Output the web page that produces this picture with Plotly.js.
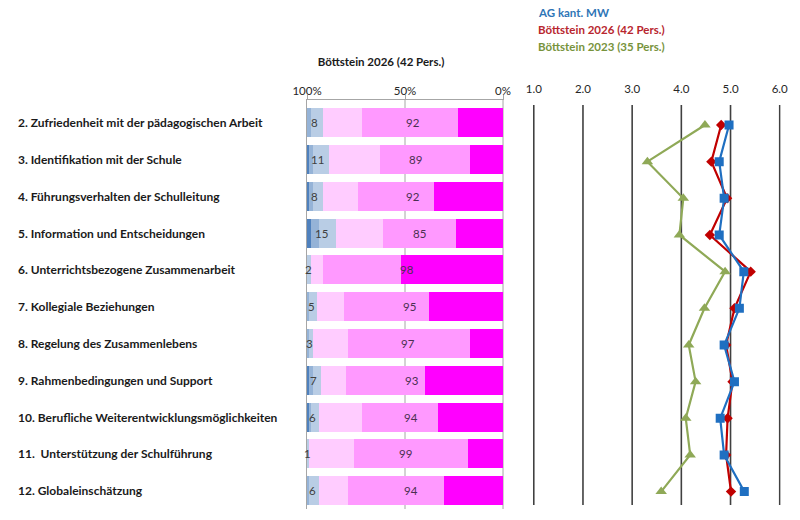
<!DOCTYPE html>
<html>
<head>
<meta charset="utf-8">
<script src="https://cdn.plot.ly/plotly-3.0.1.min.js"></script>
<style>html,body{margin:0;padding:0;background:#fff;}#chart{width:800px;height:520px;}</style>
</head>
<body>
<div id="chart"></div>
<script>
// ---- data ----
const categories = [
  "2. Zufriedenheit mit der pädagogischen Arbeit",
  "3. Identifikation mit der Schule",
  "4. Führungsverhalten der Schulleitung",
  "5. Information und Entscheidungen",
  "6. Unterrichtsbezogene Zusammenarbeit",
  "7. Kollegiale Beziehungen",
  "8. Regelung des Zusammenlebens",
  "9. Rahmenbedingungen und Support",
  "10. Berufliche Weiterentwicklungsmöglichkeiten",
  "11.  Unterstützung der Schulführung",
  "12. Globaleinschätzung"
];
// percentage segments (Böttstein 2026)
const blueDark  = [0, 1, 1, 2, 0, 0, 0, 1, 1, 0, 0];
const blueMid   = [2, 2, 2, 4, 0, 1, 1, 2, 1, 0, 1];
const blueLight = [6, 8, 5, 9, 2, 4, 2, 4, 4, 1, 5];
const pinkLight = [20, 26, 18, 24, 6, 14, 18, 13, 22, 23, 15];
const pinkMid   = [49, 46, 39, 37, 40, 43, 62, 40, 39, 58, 49];
const magenta   = [23, 17, 35, 24, 52, 38, 17, 40, 33, 18, 30];
const blueLabels = [8, 11, 8, 15, 2, 5, 3, 7, 6, 1, 6];
const pinkLabels = [92, 89, 92, 85, 98, 95, 97, 93, 94, 99, 94];
// means
const agKantMW  = [4.97, 4.77, 4.87, 4.77, 5.27, 5.18, 4.87, 5.08, 4.79, 4.87, 5.28];
const bt2026    = [4.81, 4.61, 4.93, 4.58, 5.41, 5.08, 4.91, 5.04, 4.94, 4.91, 5.01];
const bt2023    = [4.48, 3.31, 4.04, 3.96, 4.89, 4.47, 4.15, 4.29, 4.09, 4.18, 3.59];
const barTickVals = [100, 50, 0];
const barTickText = ["100%", "50%", "0%"];
const lineTickVals = [1, 2, 3, 4, 5, 6];
const legendNames = ["AG kant. MW", "Böttstein 2026 (42 Pers.)", "Böttstein 2023 (35 Pers.)"];
const barTitle = "Böttstein 2026 (42 Pers.)";

// ---- traces ----
const idx = categories.map((_, i) => i);
const FONT = "Lato, 'Open Sans', sans-serif";
function barTrace(vals, color, name) {
  return {type: "bar", orientation: "h", x: vals, y: idx, xaxis: "x", yaxis: "y",
    width: 0.79, marker: {color: color, line: {width: 0}}, name: name,
    hoverinfo: "x", showlegend: false};
}
const traces = [
  barTrace(magenta, "#FF00FF", "6"),
  barTrace(pinkMid, "#FF99FF", "5"),
  barTrace(pinkLight, "#FFCCFF", "4"),
  barTrace(blueLight, "#B9CDE5", "3"),
  barTrace(blueMid, "#95B3D7", "2"),
  barTrace(blueDark, "#4F81BD", "1"),
  {type: "scatter", mode: "lines+markers", x: bt2023, y: idx, xaxis: "x2", yaxis: "y2",
    name: legendNames[2], line: {color: "#8FA957", width: 2.2},
    marker: {symbol: "triangle-up", size: 10, color: "#8FA957"}, showlegend: false},
  {type: "scatter", mode: "lines+markers", x: bt2026, y: idx, xaxis: "x2", yaxis: "y2",
    name: legendNames[1], line: {color: "#C00000", width: 2.2},
    marker: {symbol: "diamond", size: 8, color: "#C00000"}, showlegend: false},
  {type: "scatter", mode: "lines+markers", x: agKantMW, y: idx, xaxis: "x2", yaxis: "y2",
    name: legendNames[0], line: {color: "#1F6FC1", width: 2.2},
    marker: {symbol: "square", size: 9, color: "#1F6FC1"}, showlegend: false}
];

// ---- annotations ----
const annotations = [];
categories.forEach((c, i) => {
  annotations.push({xref: "paper", yref: "y", x: 16/800, y: i, text: c, showarrow: false,
    xanchor: "left", yanchor: "middle", font: {family: FONT, size: 12, color: "#1a1a1a", weight: "bold"}});
  annotations.push({xref: "x", yref: "y", x: 100 - blueLabels[i]/2, y: i, text: String(blueLabels[i]),
    showarrow: false, xanchor: "center", yanchor: "middle", font: {family: FONT, size: 11.5, color: "#404040"}});
  annotations.push({xref: "x", yref: "y", x: pinkLabels[i]/2, y: i, text: String(pinkLabels[i]),
    showarrow: false, xanchor: "center", yanchor: "middle", font: {family: FONT, size: 11.5, color: "#4a3050"}});
});
const legendColors = ["#2E75B6", "#B8262E", "#77933C"];
const legendY = [12, 29, 46];
legendNames.forEach((n, k) => {
  annotations.push({xref: "paper", yref: "paper", x: 536/800, y: 1 - legendY[k]/520, text: n,
    showarrow: false, xanchor: "left", yanchor: "middle",
    font: {family: FONT, size: 11.5, color: legendColors[k], weight: "bold"}});
});

// ---- grid lines as axis-referenced shapes (so the end lines are drawn too) ----
const shapes = [];
lineTickVals.forEach(v => {
  shapes.push({type: "line", xref: "x2", yref: "y2 domain", x0: v, x1: v, y0: 0, y1: 1,
    line: {color: "#404040", width: 1.6}, layer: "below"});
});
barTickVals.filter(v => v !== 100).forEach(v => {
  shapes.push({type: "line", xref: "x", yref: "y domain", x0: v, x1: v, y0: 0, y1: 1,
    line: {color: "#A6A6A6", width: 1}, layer: "below"});
});

const layout = {
  width: 800, height: 520,
  margin: {l: 0, r: 0, t: 0, b: 0},
  paper_bgcolor: "#ffffff", plot_bgcolor: "rgba(0,0,0,0)",
  barmode: "stack", bargap: 0.21,
  font: {family: FONT, size: 11, color: "#1a1a1a"},
  title: {text: barTitle, x: 381/800, y: 1 - 62/520, xanchor: "center", yanchor: "middle",
    font: {family: FONT, size: 11.5, color: "#1a1a1a", weight: "bold"}},
  xaxis: {domain: [307/800, 504/800], range: [100, -0.5], side: "top", anchor: "y",
    tickvals: barTickVals, ticktext: barTickText, showgrid: false,
    showline: true, linecolor: "#A6A6A6", linewidth: 1, ticks: "outside", ticklen: 4, tickcolor: "#A6A6A6",
    zeroline: false, tickfont: {family: FONT, size: 11.5, color: "#262626"}, ticklabelstandoff: -5,
    fixedrange: true},
  yaxis: {domain: [1 - 509/520, 1 - 100/520], range: [10.5, -0.62], anchor: "x",
    showticklabels: false, showgrid: false, zeroline: false, showline: true,
    linecolor: "#A6A6A6", linewidth: 1, ticks: "", fixedrange: true},
  xaxis2: {domain: [532.8/800, 780.7/800], range: [0.98, 6.02], side: "top", anchor: "y2",
    tickvals: lineTickVals, tickformat: ".1f", showgrid: false,
    showline: false, zeroline: false, ticks: "", tickfont: {family: FONT, size: 11.5, color: "#262626"},
    ticklabelstandoff: 9, fixedrange: true},
  yaxis2: {domain: [1 - 505/520, 1 - 105/520], range: [10.365, -0.545], anchor: "x2",
    showticklabels: false, showgrid: false, zeroline: false, showline: false, ticks: "", fixedrange: true},
  shapes: shapes,
  annotations: annotations,
  showlegend: false
};

Plotly.newPlot("chart", traces, layout, {displayModeBar: false, staticPlot: true});
</script>
</body>
</html>
